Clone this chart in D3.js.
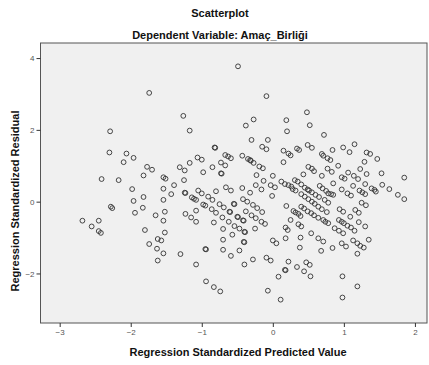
<!DOCTYPE html>
<html>
<head>
<meta charset="utf-8">
<script src="https://cdn.jsdelivr.net/npm/d3@7"></script>
<style>
  body { margin: 0; background: #fff; }
  svg { display: block; font-family: "Liberation Sans", Arial, sans-serif; }
  .tick text { fill: #555; font-size: 8px; }
  .tick line { stroke: #333; }
</style>
</head>
<body>
<svg id="chart" width="429" height="365"></svg>
<script>
// chart texts
const title = "Scatterplot";
const subtitle = "Dependent Variable: Amaç_Birliği";
const xLabel = "Regression Standardized Predicted Value";
const yLabel = "Regression Standardized Residual";
const xTicks = [-3, -2, -1, 0, 1, 2];
const yTicks = [-2, 0, 2, 4];

// standardized predicted value / standardized residual
const predicted = [
  -1.74, -2.29, -2.30, -2.06, -1.96, -2.10, -1.77, -1.70, -1.82, -1.54, -1.51, -2.41, -2.17, -1.98, -1.54, -1.82,
  -1.96, -1.54, -2.28, -2.26, -1.83, -1.94, -1.52, -1.65, -2.68, -2.45, -1.54, -2.55, -2.45, -2.42, -1.80, -1.52,
  -1.62, -1.57, -1.74, -1.63, -1.54, -1.62,
  -0.49, -0.09, -1.26, -1.17, -0.38, -0.27, 0.19, 0.20, -0.30, -0.07, -0.15, -0.09, -0.82, -0.81, 0.15, 0.22,
  -0.67, -0.63, -0.59, -0.43, -0.35, -0.32, -0.31, -0.27, 0.15, -1.06, -1.00, -1.17, -1.31, -1.24, -0.73, -0.67,
  -0.85, -0.98, -0.73, -0.72, -0.19, -0.14, -0.23, 0.00, -1.25, -0.13,
  -1.39, -1.43, -1.24, -1.23, -1.14, -1.11, -1.08, -1.05, -1.00, -0.91, -0.85, -0.80, -0.66, -0.59, -0.43, -0.32,
  -0.24, -0.16, -0.03, 0.03, -0.01, 0.12, 0.17, 0.22, -0.98, -0.95, -0.86, -0.80, -0.75, -0.69, -0.61, -0.60,
  -0.55, -0.54, -0.42, -0.36, -0.28, -0.22, -0.15, -1.08, -1.23, -1.15, -1.08, -0.83, -0.71, -0.62, -0.50, -0.49,
  -0.42, -0.41, -0.38, -0.30, -0.24, -0.16, -0.11, 0.19, -0.70, -0.54, -0.47, -0.40, -0.39, -0.25, -0.57, -0.70,
  -0.41, -0.40, 0.00, 0.05, 0.18, 0.21, 0.18, -0.95, -0.94, -0.70, -0.47, -1.30, -0.59, -0.28, -0.09, -0.03,
  0.22, -1.08, -0.40, 0.17, 0.18, 0.08, -0.94, -0.83, -0.74, -0.07, 0.11,
  0.48, 0.52, 0.72, 0.25, 0.34, 0.37, 0.49, 0.55, 0.69, 0.71, 0.77, 0.81, 0.84, 0.99, 1.08, 1.15,
  1.32, 1.37, 1.29, 1.47, 0.92, 0.50, 0.55, 0.58, 0.77, 1.23, 0.97, 1.01, 0.43, 0.69, 0.83, 1.06,
  1.14, 1.20, 1.32, 1.53, 1.85,
  0.31, 0.35, 0.40, 0.45, 0.26, 0.28, 0.32, 0.49, 0.51, 0.55, 0.60, 0.65, 0.66, 0.70, 0.75, 0.78,
  0.82, 0.85, 0.97, 1.05, 1.10, 1.13, 1.22, 1.26, 1.30, 1.30, 1.39, 1.43, 1.45, 1.54, 1.64, 1.76,
  1.85, 1.25, 1.31,
  0.40, 0.45, 0.50, 0.55, 0.59, 0.64, 0.69, 0.76, 0.73, 0.78, 0.85, 0.40, 0.44, 0.49, 0.54, 0.58,
  0.64, 0.29, 0.32, 0.36, 0.39, 0.71, 0.74, 0.78, 0.94, 0.99, 1.16, 1.21, 1.09, 0.93, 0.97, 1.00,
  1.05, 1.10, 1.15, 0.87, 0.93, 0.99, 1.21, 1.30, 0.25, 0.36, 0.40, 0.39, 0.54, 0.64, 0.71, 1.13,
  1.19, 1.23, 1.28, 1.35, 0.97, 1.03, 0.84, 0.38, 0.68, 1.19, 0.34, 0.47, 0.52, 0.44, 0.53, 0.98,
  1.19, 0.98
];
const residual = [
  3.03, 1.96, 1.37, 1.34, 1.22, 1.10, 0.97, 0.89, 0.73, 0.68, 0.64, 0.63, 0.60, 0.35, 0.36, 0.13,
  0.02, 0.05, -0.14, -0.18, -0.17, -0.31, -0.28, -0.38, -0.53, -0.53, -0.53, -0.69, -0.82, -0.87, -0.79, -0.86,
  -1.04, -1.08, -1.18, -1.31, -1.44, -1.64,
  3.77, 2.94, 2.39, 1.98, 2.12, 2.29, 2.27, 1.96, 1.72, 1.72, 1.53, 1.46, 1.51, 1.50, 1.42, 1.34,
  1.30, 1.26, 1.21, 1.28, 1.19, 1.16, 1.14, 1.08, 1.10, 1.23, 1.17, 1.08, 0.96, 0.87, 1.09, 1.01,
  0.96, 0.82, 0.79, 0.78, 0.98, 0.93, 0.74, 0.72, 0.60, 0.58,
  0.46, 0.21, 0.25, 0.24, 0.12, 0.08, 0.05, 0.31, 0.23, 0.14, 0.05, 0.29, 0.40, 0.31, 0.38, 0.25,
  0.46, 0.34, 0.46, 0.40, 0.16, 0.56, 0.49, 0.46, -0.08, -0.11, -0.21, -0.31, -0.07, -0.16, -0.28, -0.29,
  -0.06, -0.07, 0.07, 0.00, -0.09, -0.18, -0.29, -0.25, -0.34, -0.44, -0.56, -0.58, -0.44, -0.56, -0.42, -0.43,
  -0.52, -0.53, -0.27, -0.38, -0.46, -0.56, -0.62, -0.12, -0.76, -0.68, -0.75, -0.84, -0.85, -0.75, -0.92, -1.06,
  -1.12, -1.13, -1.08, -1.16, -0.72, -0.79, -1.02, -1.32, -1.33, -1.34, -1.36, -1.46, -1.51, -1.61, -1.56, -1.64,
  -1.67, -1.75, -1.75, -1.90, -1.91, -2.09, -2.22, -2.38, -2.50, -2.48, -2.73,
  2.49, 2.13, 1.86, 1.29, 1.48, 1.44, 1.58, 1.50, 1.33, 1.28, 1.21, 1.16, 1.44, 1.51, 1.38, 1.60,
  1.37, 1.33, 1.11, 1.19, 1.00, 0.97, 0.92, 0.85, 0.92, 0.91, 0.68, 0.64, 0.76, 0.72, 0.83, 0.81,
  0.72, 0.63, 0.77, 0.79, 0.67,
  0.60, 0.56, 0.48, 0.39, 0.42, 0.35, 0.31, 0.34, 0.31, 0.26, 0.19, 0.13, 0.44, 0.37, 0.30, 0.23,
  0.21, 0.51, 0.34, 0.23, 0.17, 0.44, 0.31, 0.26, 0.21, 0.49, 0.37, 0.33, 0.28, 0.47, 0.35, 0.19,
  0.07, -0.03, -0.10,
  0.21, 0.14, 0.07, 0.00, -0.06, -0.14, -0.21, -0.29, 0.05, -0.03, 0.19, -0.14, -0.19, -0.27, -0.32, -0.38,
  -0.45, -0.26, -0.30, -0.34, -0.40, -0.51, -0.56, -0.60, -0.21, -0.28, -0.23, -0.31, -0.42, -0.51, -0.56, -0.60,
  -0.67, -0.72, -0.81, -0.74, -0.81, -0.88, -0.57, -0.69, -0.51, -0.63, -0.69, -1.00, -0.88, -1.02, -1.11, -1.08,
  -1.16, -1.23, -1.28, -1.06, -1.16, -1.25, -1.29, -1.28, -1.37, -1.45, -1.82, -1.69, -1.76, -1.94, -2.08, -2.08,
  -2.36, -2.67
];

const svg = d3.select("#chart");
const plotLeft = 40.5, plotRight = 427, plotTop = 43, plotBottom = 323;

const x = d3.scaleLinear().domain([-3.27, 2.17]).range([plotLeft, plotRight]);
const y = d3.scaleLinear().domain([-3.38, 4.42]).range([plotBottom, plotTop]);

// plot background + frame
svg.append("rect")
  .attr("x", plotLeft).attr("y", plotTop)
  .attr("width", plotRight - plotLeft).attr("height", plotBottom - plotTop)
  .attr("fill", "#f0f0f0")
  .attr("stroke", "#555").attr("stroke-width", 1);

// axes
const xAxis = svg.append("g")
  .attr("transform", `translate(0,${plotBottom})`)
  .call(d3.axisBottom(x).tickValues(xTicks).tickSize(4).tickPadding(2).tickFormat(d3.format("d")));
xAxis.select(".domain").remove();

const yAxis = svg.append("g")
  .attr("transform", `translate(${plotLeft},0)`)
  .call(d3.axisLeft(y).tickValues(yTicks).tickSize(4).tickPadding(2).tickFormat(d3.format("d")));
yAxis.select(".domain").remove();

svg.selectAll(".tick text").attr("font-family", "Liberation Sans, Arial, sans-serif");

// points
svg.append("g")
  .selectAll("circle")
  .data(d3.zip(predicted, residual))
  .join("circle")
  .attr("cx", d => x(d[0]))
  .attr("cy", d => y(d[1]))
  .attr("r", 2.4)
  .attr("fill", "none")
  .attr("stroke", "#333")
  .attr("stroke-width", 0.9);

// titles
svg.append("text")
  .attr("x", 220).attr("y", 17)
  .attr("text-anchor", "middle")
  .attr("font-size", 11).attr("font-weight", "bold")
  .attr("fill", "#111")
  .text(title);

svg.append("text")
  .attr("x", 220).attr("y", 39)
  .attr("text-anchor", "middle")
  .attr("font-size", 11).attr("font-weight", "bold")
  .attr("fill", "#111")
  .text(subtitle);

svg.append("text")
  .attr("x", 238).attr("y", 356)
  .attr("text-anchor", "middle")
  .attr("font-size", 11).attr("font-weight", "bold")
  .attr("fill", "#111")
  .text(xLabel);

svg.append("text")
  .attr("transform", "translate(19,201) rotate(-90)")
  .attr("text-anchor", "middle")
  .attr("font-size", 11).attr("font-weight", "bold")
  .attr("fill", "#111")
  .text(yLabel);
</script>
</body>
</html>
